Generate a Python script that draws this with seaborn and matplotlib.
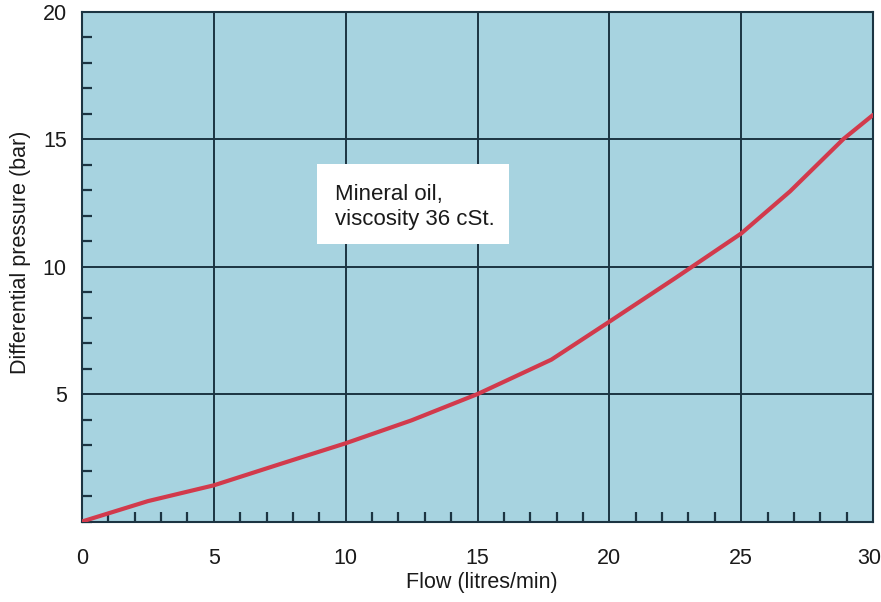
import matplotlib
matplotlib.use("Agg")
import matplotlib.pyplot as plt
from matplotlib.ticker import MultipleLocator, FixedLocator
import matplotlib.transforms as mtransforms
import seaborn as sns
import pandas as pd

flow = [0, 2.5, 5, 7.5, 10, 12.5, 15, 17.8, 20, 22.5, 25, 26.85, 28.87, 30]
pressure = [0, 0.8, 1.42, 2.25, 3.07, 3.97, 5.0, 6.35, 7.84, 9.55, 11.3, 12.95, 15.0, 15.95]
x_ticks = [0, 5, 10, 15, 20, 25, 30]
y_ticks = [5, 10, 15, 20]
note = "Mineral oil,\nviscosity 36 cSt."

sns.set_theme(style="white")
plt.rcParams['font.family'] = ['Liberation Sans', 'DejaVu Sans']

bg = "#a7d3e0"
dark = "#1c3442"
red = "#d23a4c"
txt = "#1a1a1a"

df = pd.DataFrame({"flow": flow, "pressure": pressure})

fig = plt.figure(figsize=(8.81, 6.02), dpi=100)
ax = fig.add_axes([0.0931, 0.1337, 0.8979, 0.8469])
ax.set_facecolor(bg)

sns.lineplot(data=df, x="flow", y="pressure", ax=ax, color=red, linewidth=3.0, zorder=5)

ax.set_xlim(0, 30)
ax.set_ylim(0, 20)
ax.xaxis.set_major_locator(FixedLocator(x_ticks))
ax.yaxis.set_major_locator(FixedLocator(y_ticks))
ax.xaxis.set_minor_locator(MultipleLocator(1))
ax.yaxis.set_minor_locator(MultipleLocator(1))
ax.grid(True, which="major", color=dark, linewidth=1.4, zorder=1)
ax.set_axisbelow(True)
ax.tick_params(which="major", length=0, labelsize=15.5, colors=txt)
ax.tick_params(axis="x", which="major", pad=19)
ax.tick_params(axis="y", which="major", pad=11)
ax.tick_params(which="minor", direction="in", length=7.5, width=1.6, color=dark,
               bottom=True, left=True, top=False, right=False)
for s in ax.spines.values():
    s.set_color(dark)
    s.set_linewidth(1.5)

ax.set_xlabel("Flow (litres/min)", fontsize=15.5, color=txt)
ax.set_ylabel("Differential pressure (bar)", fontsize=15.5, color=txt)
ax.xaxis.set_label_coords(0.5057, -0.1206)
ax.yaxis.set_label_coords(-0.0784, 0.5286)
ax.xaxis.label.set_va("center")
ax.yaxis.label.set_va("center")

fig.canvas.draw()
last = ax.get_xticklabels()[-1]
last.set_transform(last.get_transform() + mtransforms.ScaledTranslation(-4 / 100, 0, fig.dpi_scale_trans))

rect = plt.Rectangle((0.2967, 0.544), 0.2434, 0.157, transform=ax.transAxes,
                     facecolor="white", edgecolor="none", zorder=6)
ax.add_patch(rect)
ax.text(0.32, 0.617, note, transform=ax.transAxes, fontsize=16,
        color=txt, va="center", ha="left", linespacing=1.2, zorder=7)

fig.savefig("out.png", dpi=100)
